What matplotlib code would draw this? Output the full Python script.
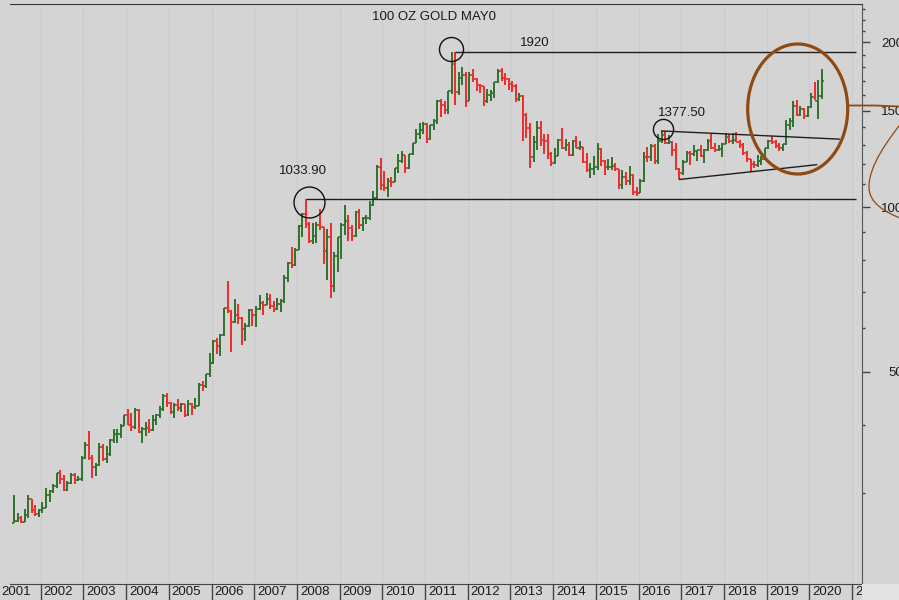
import numpy as np
import pandas as pd
import matplotlib
matplotlib.use("Agg")
import matplotlib.pyplot as plt
from matplotlib.patches import Ellipse, PathPatch, Rectangle
from matplotlib.path import Path
from matplotlib.ticker import FixedLocator, NullFormatter
import matplotlib.transforms as mtransforms

plt.rcParams['font.family'] = ['Liberation Sans', 'DejaVu Sans']

# ---------------- data (monthly OHLC, May 2001 - Apr 2020) ----------------
start_month = "2001-05"
opens = [
    264, 267, 270, 266, 273, 293, 279, 275,
    279, 282, 297, 302, 309, 326, 318, 304, 313, 324, 317, 318,
    347, 367, 347, 334, 338, 364, 346, 354, 375, 384, 384, 398,
    416, 400, 396, 426, 388, 393, 395, 391, 408, 416, 428, 452,
    438, 422, 435, 429, 436, 417, 436, 430, 433, 473, 470, 495,
    518, 570, 556, 583, 654, 646, 616, 634, 626, 599, 606, 648,
    636, 652, 669, 663, 679, 659, 650, 666, 673, 743, 790, 783,
    834, 923, 971, 933, 865, 886, 926, 918, 832, 880, 718, 815,
    883, 927, 943, 917, 884, 979, 927, 954, 955, 1008, 1040, 1182,
    1097, 1083, 1118, 1113, 1180, 1215, 1245, 1181, 1248, 1309, 1359, 1386,
    1421, 1333, 1411, 1439, 1563, 1536, 1502, 1628, 1828, 1620, 1725, 1746,
    1566, 1740, 1711, 1669, 1664, 1561, 1604, 1615, 1691, 1776, 1720, 1713,
    1676, 1662, 1579, 1597, 1476, 1392, 1234, 1313, 1396, 1327, 1323, 1250,
    1202, 1240, 1326, 1284, 1296, 1246, 1322, 1282, 1287, 1210, 1171, 1175,
    1184, 1279, 1213, 1183, 1183, 1190, 1172, 1095, 1135, 1115, 1142, 1065,
    1061, 1116, 1237, 1235, 1293, 1215, 1321, 1357, 1311, 1316, 1273, 1173,
    1152, 1211, 1253, 1249, 1268, 1270, 1242, 1269, 1322, 1284, 1271, 1275,
    1302, 1345, 1318, 1325, 1316, 1298, 1253, 1224, 1200, 1192, 1215, 1222,
    1282, 1321, 1313, 1292, 1284, 1305, 1413, 1437, 1529, 1472, 1513, 1464,
    1523, 1587, 1566, 1596,
]
highs = [
    298, 276, 272, 280, 298, 293, 285, 281,
    289, 306, 304, 311, 327, 330, 323, 316, 326, 326, 322, 350,
    372, 389, 352, 341, 371, 369, 365, 377, 392, 392, 401, 417,
    427, 420, 429, 427, 396, 404, 409, 416, 418, 432, 456, 457,
    440, 438, 446, 438, 437, 443, 438, 448, 476, 480, 496, 540,
    572, 576, 585, 655, 732, 647, 679, 664, 629, 613, 651, 650,
    660, 690, 673, 696, 694, 673, 683, 679, 751, 795, 845, 840,
    928, 975, 1033.9, 940, 935, 940, 991, 920, 912, 935, 826, 880,
    936, 1007, 965, 927, 983, 992, 960, 965, 1024, 1070, 1195, 1227,
    1162, 1128, 1136, 1181, 1249, 1265, 1246, 1250, 1310, 1388, 1425, 1432,
    1425, 1415, 1447, 1569, 1578, 1561, 1633, 1917, 1920, 1764, 1804, 1763,
    1763, 1791, 1720, 1677, 1668, 1641, 1635, 1693, 1791, 1797, 1755, 1725,
    1697, 1682, 1617, 1605, 1488, 1424, 1348, 1434, 1434, 1362, 1362, 1262,
    1280, 1332, 1392, 1331, 1315, 1326, 1346, 1323, 1290, 1256, 1204, 1240,
    1307, 1283, 1220, 1225, 1232, 1205, 1175, 1170, 1157, 1191, 1147, 1088,
    1127, 1263, 1287, 1306, 1304, 1362, 1377.5, 1375, 1352, 1318, 1307, 1181,
    1221, 1264, 1264, 1297, 1272, 1298, 1276, 1330, 1362, 1311, 1299, 1310,
    1366, 1362, 1365, 1369, 1326, 1309, 1266, 1225, 1215, 1243, 1238, 1284,
    1326, 1346, 1324, 1310, 1306, 1442, 1452, 1566, 1567, 1530, 1518, 1531,
    1613, 1691, 1704, 1790,
]
lows = [
    264, 265, 264, 265, 270, 276, 272, 271,
    276, 282, 289, 300, 306, 312, 303, 302, 311, 311, 315, 316,
    346, 345, 319, 322, 336, 343, 341, 351, 371, 370, 378, 397,
    399, 390, 393, 386, 371, 382, 387, 389, 399, 411, 424, 430,
    419, 412, 424, 422, 413, 415, 416, 428, 432, 460, 467, 488,
    517, 538, 535, 582, 641, 543, 613, 612, 560, 568, 604, 605,
    603, 648, 636, 663, 651, 642, 648, 642, 668, 730, 775, 780,
    834, 880, 915, 860, 855, 860, 907, 786, 735, 681, 700, 760,
    802, 890, 865, 865, 882, 910, 905, 930, 948, 1003, 1034, 1075,
    1072, 1045, 1088, 1112, 1155, 1205, 1155, 1175, 1243, 1308, 1330, 1360,
    1308, 1328, 1381, 1420, 1462, 1478, 1478, 1608, 1535, 1600, 1670, 1523,
    1563, 1690, 1627, 1614, 1527, 1547, 1563, 1582, 1686, 1700, 1673, 1637,
    1626, 1555, 1562, 1322, 1338, 1180, 1208, 1270, 1292, 1251, 1226, 1187,
    1200, 1238, 1277, 1268, 1240, 1240, 1281, 1272, 1204, 1160, 1131, 1142,
    1167, 1191, 1142, 1170, 1170, 1162, 1077, 1080, 1098, 1098, 1052, 1046,
    1060, 1110, 1208, 1212, 1199, 1200, 1311, 1302, 1305, 1242, 1171, 1123,
    1146, 1207, 1195, 1241, 1214, 1237, 1205, 1267, 1275, 1261, 1265, 1237,
    1302, 1307, 1303, 1314, 1281, 1246, 1211, 1160, 1180, 1182, 1196, 1222,
    1276, 1302, 1281, 1266, 1266, 1298, 1382, 1400, 1465, 1465, 1446, 1459,
    1518, 1568, 1451, 1577,
]
closes = [
    267, 271, 266, 273, 293, 279, 275, 279,
    282, 297, 302, 309, 326, 318, 304, 313, 324, 317, 318, 347,
    367, 347, 334, 338, 364, 346, 354, 375, 384, 384, 398, 416,
    400, 396, 426, 388, 393, 395, 391, 408, 416, 428, 452, 438,
    422, 435, 429, 436, 417, 436, 430, 433, 473, 470, 495, 518,
    570, 556, 583, 654, 646, 616, 634, 626, 599, 606, 648, 636,
    652, 669, 663, 679, 659, 650, 666, 673, 743, 790, 783, 834,
    923, 971, 933, 865, 886, 926, 918, 832, 880, 718, 815, 883,
    927, 943, 917, 884, 979, 927, 954, 955, 1008, 1040, 1182, 1097,
    1083, 1118, 1113, 1180, 1215, 1245, 1181, 1248, 1309, 1359, 1386, 1421,
    1333, 1411, 1439, 1563, 1536, 1502, 1628, 1828, 1620, 1725, 1746, 1566,
    1740, 1711, 1669, 1664, 1561, 1604, 1615, 1691, 1776, 1720, 1713, 1676,
    1662, 1579, 1597, 1476, 1392, 1234, 1313, 1396, 1327, 1323, 1250, 1202,
    1240, 1326, 1284, 1296, 1246, 1322, 1282, 1287, 1210, 1171, 1175, 1184,
    1279, 1213, 1183, 1183, 1190, 1172, 1095, 1135, 1115, 1142, 1065, 1061,
    1116, 1237, 1235, 1293, 1215, 1321, 1357, 1311, 1316, 1273, 1173, 1152,
    1211, 1253, 1249, 1268, 1270, 1242, 1269, 1322, 1284, 1271, 1275, 1302,
    1345, 1318, 1325, 1316, 1298, 1253, 1224, 1200, 1192, 1215, 1222, 1282,
    1321, 1313, 1292, 1284, 1305, 1413, 1437, 1529, 1472, 1513, 1464, 1523,
    1587, 1566, 1596, 1700,
]

title = "100 OZ GOLD MAY0"
year_labels = list(range(2001, 2022))
y_major = [500, 1000, 1500, 2000]
y_minor = [v for v in range(300, 2400, 100) if v not in y_major]

# ---------------- figure ----------------
W, H = 899, 600
BG = '#d4d4d4'
fig = plt.figure(figsize=(W / 100, H / 100), dpi=100, facecolor=BG)


def fpx(x, y):
    """pixel (top-left origin) -> figure fraction"""
    return x / W, 1 - y / H


AX_L, AX_R, AX_T, AX_B = 10, 862, 4, 584
ax = fig.add_axes([AX_L / W, 1 - AX_B / H, (AX_R - AX_L) / W, (AX_B - AX_T) / H])
ax.set_facecolor(BG)
ax.set_yscale('log')
ax.set_ylim(204.5, 2351)
ax.set_xlim(2001.281, 2021.234)

opens_a = np.array(opens, float)
highs_a = np.array(highs, float)
lows_a = np.array(lows, float)
closes_a = np.array(closes, float)
dates = pd.date_range(start_month, periods=len(opens_a), freq='MS')
xs = np.asarray(dates.year + (dates.month - 0.5) / 12.0, float)

up = closes_a >= opens_a
GREEN = '#2f722f'
RED = '#f22a2a'
cols = np.where(up, GREEN, RED)
tick = 0.042
ax.vlines(xs, lows_a, highs_a, colors=cols, lw=1.4, zorder=3)
ax.hlines(opens_a, xs - tick, xs, colors=cols, lw=1.2, zorder=3)
ax.hlines(closes_a, xs, xs + tick, colors=cols, lw=1.2, zorder=3)

# vertical dotted year grid
for yr in year_labels[1:]:
    ax.axvline(yr, color='#bdbdbd', lw=0.8, ls=(0, (1, 1.5)), zorder=0)

# x axis: year cells
ax.set_xticks(year_labels[1:])
ax.tick_params(axis='x', which='major', direction='out', length=16 / 1.389,
               width=1.0, color='#444444', labelbottom=False)
clip_bb = mtransforms.TransformedBbox(
    mtransforms.Bbox.from_extents(0, 0, AX_R / W, 1), fig.transFigure)
for yr in year_labels:
    t = ax.text(yr + 3 / 42.7, -8 / (AX_B - AX_T), str(yr),
                transform=ax.get_xaxis_transform(), ha='left', va='center',
                fontsize=9.5, color='#1a1a1a')
    t.set_clip_on(True)
    t.set_clip_box(clip_bb)

# right log axis
ax.yaxis.tick_right()
ax.yaxis.set_major_locator(FixedLocator(y_major))
ax.yaxis.set_minor_locator(FixedLocator(y_minor))
ax.yaxis.set_minor_formatter(NullFormatter())
ax.set_yticklabels([str(v) for v in y_major])
ax.tick_params(axis='y', which='major', direction='out', length=8 / 1.389,
               width=1.0, color='#444444', labelsize=9.5, labelcolor='#1a1a1a',
               pad=29.5)
ax.tick_params(axis='y', which='minor', direction='out', length=3.5 / 1.389,
               width=1.0, color='#444444')
for lbl in ax.get_yticklabels():
    lbl.set_horizontalalignment('right')

ax.spines['left'].set_visible(False)
ax.spines['top'].set_color('#333333')
ax.spines['right'].set_color('#555555')
ax.spines['bottom'].set_color('#444444')

# lighter strip under the right axis in the label row
fig.patches.append(Rectangle((AX_R / W, 0), (W - AX_R) / W, (H - AX_B) / H,
                             transform=fig.transFigure, facecolor='#e3e3e3',
                             edgecolor='none', zorder=0))

# ---------------- annotations ----------------
x_end = 2021.09


def off(dx, dy):
    return ax.transData + mtransforms.ScaledTranslation(dx / 100, dy / 100, fig.dpi_scale_trans)


# 1920 top
i_top = int(np.argmax(highs_a))
ax.hlines(highs_a[i_top], xs[i_top], x_end, color='#1e1e1e', lw=1.0, zorder=4)
ax.plot([xs[i_top]], [highs_a[i_top]], marker='o', ms=17.3, mfc='none', mec='#111111',
        mew=1.0, transform=off(-4, 3.4), zorder=5)
fig.text(*fpx(534.5, 43.5), "1920", ha='center', va='center', fontsize=9.5, color='#1a1a1a')

# 2008 top 1033.90
m08 = (dates.year == 2008)
i08 = int(np.where(m08)[0][np.argmax(highs_a[m08])])
ax.hlines(highs_a[i08], xs[i08], x_end, color='#1e1e1e', lw=1.0, zorder=4)
ax.plot([xs[i08]], [highs_a[i08]], marker='o', ms=22.3, mfc='none', mec='#111111',
        mew=1.0, transform=off(3, -2.6), zorder=5)
fig.text(*fpx(303.3, 171), "1033.90", ha='center', va='center', fontsize=9.5, color='#1a1a1a')

# 2016 top 1377.50 and triangle
m16 = (dates.year == 2016)
i16 = int(np.where(m16)[0][np.argmax(highs_a[m16])])
after = np.arange(len(lows_a)) > i16
m16b = m16 & after
i16l = int(np.where(m16b)[0][np.argmin(lows_a[m16b])])
ax.plot([xs[i16]], [highs_a[i16]], marker='o', ms=14.5, mfc='none', mec='#111111',
        mew=1.0, transform=off(1.5, 2), zorder=5)
fig.text(*fpx(681.7, 113), "1377.50", ha='center', va='center', fontsize=9.5, color='#1a1a1a')
ax.plot([xs[i16], 2020.70], [highs_a[i16], 1331], color='#1e1e1e', lw=1.0, zorder=4)
ax.plot([xs[i16l], 2020.17], [lows_a[i16l], 1195], color='#1e1e1e', lw=1.0, zorder=4)

# title
fig.text(*fpx(433.8, 17.3), title, ha='center', va='center', fontsize=9.5, color='#1a1a1a')

# brown ellipse (in axes fraction)
BROWN = '#8f4a12'
ell = Ellipse(((797.7 - AX_L) / (AX_R - AX_L), (AX_B - 109) / (AX_B - AX_T)),
              100 / (AX_R - AX_L), 130 / (AX_B - AX_T), transform=ax.transAxes,
              facecolor='none', edgecolor=BROWN, lw=2.3, zorder=6)
ax.add_patch(ell)

# brown connector and curve (figure pixels)
verts = [fpx(847.5, 105.5), fpx(875, 105.5), fpx(899, 106.5)]
fig.add_artist(PathPatch(Path(verts, [Path.MOVETO, Path.LINETO, Path.LINETO]),
                         transform=fig.transFigure, facecolor='none',
                         edgecolor=BROWN, lw=1.3, zorder=7))
cv = [fpx(905, 118), fpx(888, 140), fpx(869, 165), fpx(869, 187),
      fpx(869, 203), fpx(884, 212), fpx(905, 220)]
codes = [Path.MOVETO, Path.CURVE4, Path.CURVE4, Path.CURVE4,
         Path.CURVE4, Path.CURVE4, Path.CURVE4]
fig.add_artist(PathPatch(Path(cv, codes), transform=fig.transFigure,
                         facecolor='none', edgecolor=BROWN, lw=0.9, zorder=7))

fig.savefig("out.png", dpi=100, facecolor=fig.get_facecolor())
